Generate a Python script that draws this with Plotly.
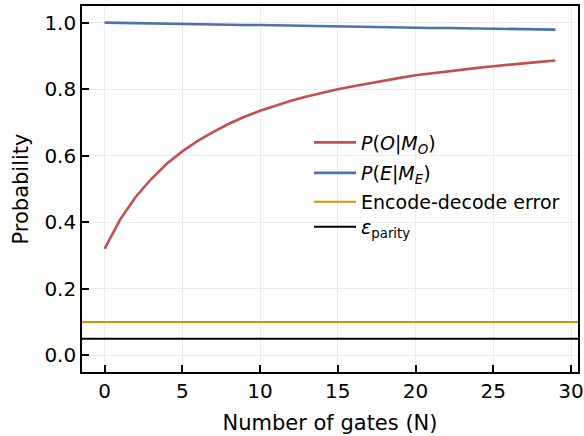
import plotly.graph_objects as go

N = list(range(30))
p_O = [0.320, 0.408, 0.476, 0.530, 0.576, 0.613, 0.645, 0.672, 0.696, 0.717,
       0.735, 0.751, 0.765, 0.778, 0.790, 0.800, 0.809, 0.818, 0.826, 0.834,
       0.842, 0.848, 0.854, 0.859, 0.864, 0.869, 0.874, 0.878, 0.882, 0.886]
p_E = [1.000, 0.999, 0.998, 0.998, 0.997, 0.996, 0.996, 0.995, 0.994, 0.993,
       0.993, 0.992, 0.991, 0.990, 0.990, 0.989, 0.988, 0.987, 0.987, 0.986,
       0.985, 0.984, 0.984, 0.983, 0.982, 0.981, 0.981, 0.980, 0.979, 0.979]
encode_decode_error = 0.10
eps_parity = 0.05

x_ticks = [0, 5, 10, 15, 20, 25, 30]
y_ticks = [0.0, 0.2, 0.4, 0.6, 0.8, 1.0]
y_tick_labels = ["0.0", "0.2", "0.4", "0.6", "0.8", "1.0"]

RED = "#c44e52"
BLUE = "#4c72b0"
ORANGE = "#de8f05"
BLACK = "#000000"
FONT = "DejaVu Sans"

xspan = max(N) - min(N)
xr = [min(N) - 0.05 * xspan, max(N) + 0.05 * xspan]
yspan = y_ticks[-1] - y_ticks[0]
yr = [y_ticks[0] - 0.05 * yspan, y_ticks[-1] + 0.05 * yspan]

fig = go.Figure()
fig.add_trace(go.Scatter(x=N, y=p_O, mode="lines", line=dict(color=RED, width=2.6), showlegend=True,
                         name="<i>P</i>(<i>O</i>|<i>M</i><sub><i>O</i></sub>)", legend="legend"))
fig.add_trace(go.Scatter(x=N, y=p_E, mode="lines", line=dict(color=BLUE, width=2.6), showlegend=True,
                         name="<i>P</i>(<i>E</i>|<i>M</i><sub><i>E</i></sub>)", legend="legend2"))
fig.add_shape(type="line", xref="paper", x0=0, x1=1, yref="y", y0=encode_decode_error, y1=encode_decode_error,
              line=dict(color=ORANGE, width=2), showlegend=True, name="Encode-decode error", legend="legend3")
fig.add_shape(type="line", xref="paper", x0=0, x1=1, yref="y", y0=eps_parity, y1=eps_parity,
              line=dict(color=BLACK, width=2), showlegend=True, name="<i>ε</i><sub>parity</sub>", legend="legend4")

axis_common = dict(showline=True, linecolor="black", linewidth=1.6, mirror=True,
                   ticks="inside", ticklen=7, tickwidth=1.5, tickcolor="black",
                   showgrid=True, gridcolor="#ececec", gridwidth=1, zeroline=False,
                   tickfont=dict(family=FONT, size=20, color="black"))

fig.update_xaxes(range=xr, tickvals=x_ticks,
                 title=dict(text="Number of gates (N)", font=dict(family=FONT, size=21, color="black"), standoff=14),
                 **axis_common)
fig.update_yaxes(range=yr, tickvals=y_ticks, ticktext=y_tick_labels,
                 title=dict(text="Probability", font=dict(family=FONT, size=21, color="black"), standoff=10),
                 **axis_common)

PLOT_TOP, PLOT_BOTTOM = 6, 372
def leg(row_center_px):
    return dict(x=0.4577, y=(PLOT_BOTTOM - row_center_px) / (PLOT_BOTTOM - PLOT_TOP),
                xanchor="left", yanchor="middle", bgcolor="rgba(0,0,0,0)", itemwidth=42,
                font=dict(family=FONT, size=19, color="black"))

fig.update_layout(
    width=584, height=436,
    margin=dict(l=82, r=6, t=PLOT_TOP, b=436 - PLOT_BOTTOM, autoexpand=False),
    plot_bgcolor="white", paper_bgcolor="white",
    font=dict(family=FONT, color="black"),
    showlegend=True,
    legend=leg(142.5), legend2=leg(173), legend3=leg(202), legend4=leg(227),
)

fig.write_html("out.html", config={"displayModeBar": False},
               post_script="document.body.style.margin='0px';")
